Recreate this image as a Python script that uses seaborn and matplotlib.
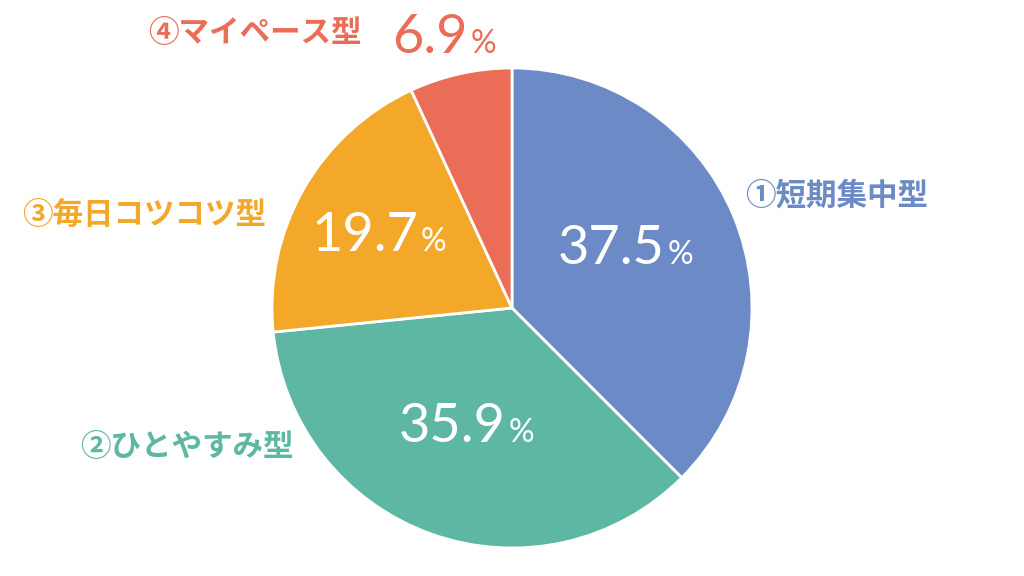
import matplotlib
matplotlib.use("Agg")
import matplotlib.pyplot as plt
import seaborn as sns

# データ
categories = ["①短期集中型", "②ひとやすみ型", "③毎日コツコツ型", "④マイペース型"]
shares = [37.5, 35.9, 19.7, 6.9]
colors = ["#6C8AC6", "#5DB7A3", "#F4A829", "#EB6D57"]

sns.set_theme(style="white")
plt.rcParams['font.family'] = ['Noto Sans CJK JP', 'DejaVu Sans']

W, H = 1024, 576
fig = plt.figure(figsize=(W / 100, H / 100), dpi=100)
ax = fig.add_axes([0, 0, 1, 1])

cx, cy, r = 512, H - 308, 240
ax.pie(shares, colors=colors, startangle=90, counterclock=False,
       center=(cx, cy), radius=r, frame=True,
       wedgeprops=dict(edgecolor='white', linewidth=2))
ax.set_xlim(0, W)
ax.set_ylim(0, H)
ax.set_aspect('equal')
ax.axis('off')

# 割合ラベル (数字の右端x, ベースラインy, 色)
pct_pos = [(665, 264, 'white'), (506, 442, 'white'), (418, 251, 'white'), (468, 53, colors[3])]
for val, (x, y, c) in zip(shares, pct_pos):
    ax.text(x, H - y, f"{val:.1f}", ha='right', va='baseline', fontsize=39,
            color=c, family=['Lato', 'DejaVu Sans'], fontweight='normal')
    ax.text(x + 3, H - y, "%", ha='left', va='baseline', fontsize=23,
            color=c, family=['Lato', 'DejaVu Sans'], fontweight='normal')

# カテゴリラベル (左端x, 中心y)
cat_pos = [(745, 195), (80, 447), (22, 215), (148, 33)]
for name, (x, y), c in zip(categories, cat_pos, colors):
    ax.text(x, H - y, name, ha='left', va='center', fontsize=22,
            color=c, fontweight='bold')

fig.savefig("out.png", dpi=100, facecolor='white')
